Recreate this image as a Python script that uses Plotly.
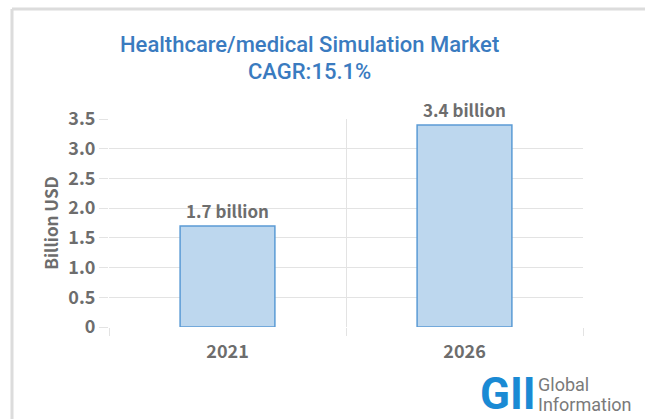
import plotly.graph_objects as go

categories = ["2021", "2026"]
values = [1.7, 3.4]
labels = ["1.7 billion", "3.4 billion"]
ytick_vals = [0, 0.5, 1.0, 1.5, 2.0, 2.5, 3.0, 3.5]
ytick_text = ["0", "0.5", "1.0", "1.5", "2.0", "2.5", "3.0", "3.5"]
title_lines = ["Healthcare/medical Simulation Market", "CAGR:15.1%"]
y_title = "Billion USD"
logo_mark = "GII"
logo_words = ["Global", "Information"]

FONT = "Noto Sans CJK JP"
GREY = "#6d6d6d"
GRID = "#e3e3e3"

W, H = 645, 419
L, R, T, B = 109, 62, 119, 92
pw, ph = W - L - R, H - T - B

def px(x):
    return (x - L) / pw

def py(y):
    return (H - B - y) / ph

fig = go.Figure()
fig.add_trace(go.Bar(
    x=categories, y=values, text=labels, textposition="outside",
    textfont=dict(family=FONT, size=17, color=GREY, weight="bold"),
    marker=dict(color="#bdd7ee", line=dict(color="#5b9bd5", width=1.5)),
    width=0.4, cliponaxis=False,
))

fig.update_layout(
    width=W, height=H, margin=dict(l=L, r=R, t=T, b=B),
    paper_bgcolor="white", plot_bgcolor="white", showlegend=False,
    font=dict(family=FONT, color=GREY),
    xaxis=dict(type="category", range=[-0.5, 1.5], tickson="boundaries",
               showgrid=True, gridcolor=GRID, gridwidth=1,
               ticks="outside", ticklen=8, tickcolor=GRID,
               showline=False, zeroline=False, ticklabelstandoff=12,
               tickfont=dict(family=FONT, size=18, color=GREY, weight="bold")),
    yaxis=dict(range=[0, 3.5], tickvals=ytick_vals, ticktext=ytick_text,
               showgrid=True, gridcolor=GRID, gridwidth=1,
               ticks="outside", ticklen=9, tickcolor=GRID,
               showline=False, zeroline=False,
               tickfont=dict(family=FONT, size=18, color=GREY, weight="bold"),
               title=dict(text=y_title, standoff=5,
                          font=dict(family=FONT, size=17, color=GREY, weight="bold"))),
)

# title lines
for txt, yc in zip(title_lines, [45, 72]):
    fig.add_annotation(xref="paper", yref="paper", x=px(309), y=py(yc),
                       xanchor="center", yanchor="middle", showarrow=False,
                       text=txt, font=dict(family="Roboto", size=22, color="#3a7bc0", weight=500))

# outer frame (left and top edges)
fig.add_shape(type="line", xref="paper", yref="paper", x0=px(12), x1=px(12), y0=py(9), y1=-1,
              line=dict(color="#dcdcdc", width=3))
fig.add_shape(type="line", xref="paper", yref="paper", x0=px(12), x1=2, y0=py(9), y1=py(9),
              line=dict(color="#dcdcdc", width=3))

# logo
fig.add_annotation(xref="paper", yref="paper", x=px(478), y=py(394),
                   xanchor="left", yanchor="middle", showarrow=False,
                   text="<b>" + logo_mark + "</b>", font=dict(family="Roboto", size=44, color="#1a8ad4"))
fig.add_annotation(xref="paper", yref="paper", x=px(536), y=py(384),
                   xanchor="left", yanchor="middle", showarrow=False,
                   text=logo_words[0], font=dict(family="Roboto", size=18, color="#7a7a7a"))
fig.add_annotation(xref="paper", yref="paper", x=px(536), y=py(404),
                   xanchor="left", yanchor="middle", showarrow=False,
                   text=logo_words[1], font=dict(family="Roboto", size=18, color="#7a7a7a"))

fig.write_html("out.html")
